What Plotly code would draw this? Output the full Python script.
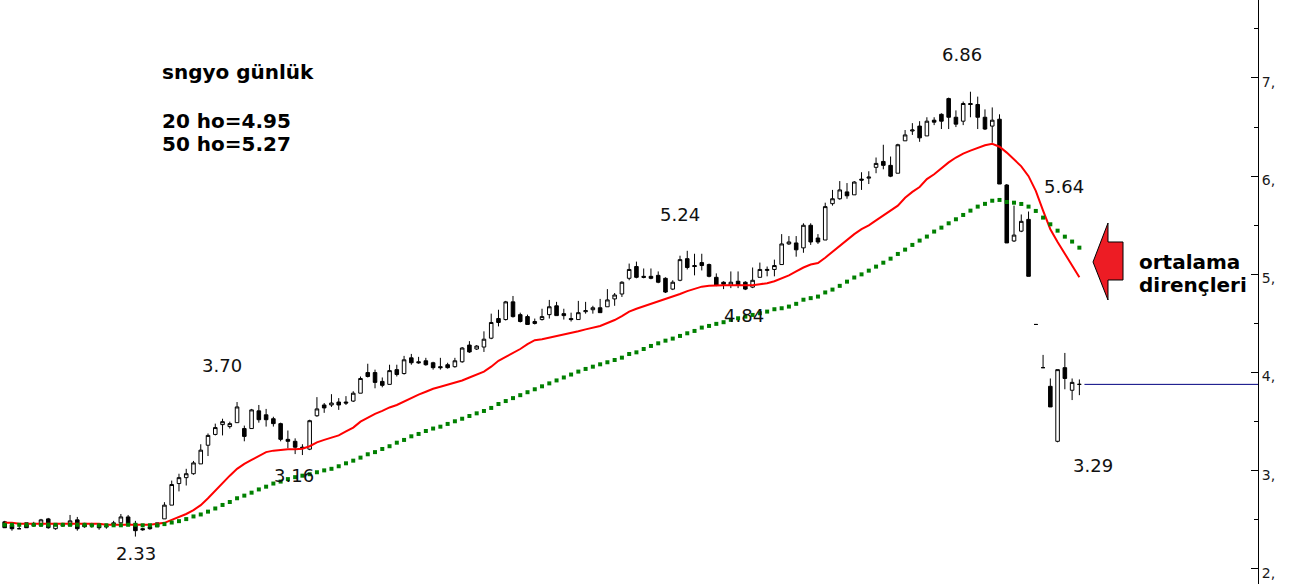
import plotly.graph_objects as go

# ---------------- data ----------------
open_ = [2.48, 2.45, 2.41, 2.47, 2.46, 2.44, 2.51, 2.41, 2.44, 2.44,
         2.50, 2.46, 2.46, 2.45, 2.44, 2.45, 2.47, 2.53, 2.46, 2.41,
         2.43, 2.43, 2.51, 2.65, 2.87, 2.93, 2.97, 3.07, 3.26, 3.37,
         3.47, 3.45, 3.49, 3.43, 3.43, 3.61, 3.57, 3.53, 3.48, 3.32,
         3.30, 3.24, 3.22, 3.56, 3.67, 3.67, 3.70, 3.70, 3.71, 3.79,
         4.00, 4.00, 3.91, 3.88, 4.03, 3.99, 4.15, 4.11, 4.12, 4.10,
         4.06, 4.08, 4.06, 4.11, 4.28, 4.24, 4.26, 4.35, 4.55, 4.54,
         4.72, 4.59, 4.57, 4.50, 4.54, 4.59, 4.68, 4.60, 4.55, 4.54,
         4.62, 4.64, 4.66, 4.67, 4.75, 4.80, 4.96, 5.08, 4.98, 4.98,
         4.99, 4.96, 4.85, 4.94, 5.16, 5.09, 5.12, 5.10, 4.97, 4.92,
         4.89, 4.93, 4.92, 4.87, 4.97, 5.04, 5.05, 5.10, 5.31, 5.32,
         5.27, 5.50, 5.37, 5.35, 5.72, 5.77, 5.84, 5.81, 5.97, 5.98,
         6.09, 6.15, 6.11, 6.03, 6.36, 6.46, 6.51, 6.41, 6.57, 6.63,
         6.79, 6.60, 6.56, 6.74, 6.73, 6.60, 6.51, 6.58, 5.91, 5.34,
         5.44, 5.56, 4.49, 4.05, 3.86, 3.30, 4.05, 3.82, 3.88]
high = [2.49, 2.45, 2.46, 2.47, 2.48, 2.51, 2.52, 2.46, 2.47, 2.55,
        2.53, 2.47, 2.47, 2.46, 2.46, 2.49, 2.56, 2.55, 2.49, 2.42,
        2.44, 2.47, 2.68, 2.90, 2.97, 3.02, 3.10, 3.27, 3.38, 3.48,
        3.53, 3.50, 3.70, 3.46, 3.63, 3.67, 3.63, 3.55, 3.49, 3.41,
        3.33, 3.27, 3.52, 3.75, 3.69, 3.78, 3.74, 3.76, 3.81, 3.96,
        4.09, 4.03, 3.95, 4.08, 4.08, 4.17, 4.19, 4.16, 4.15, 4.11,
        4.15, 4.10, 4.15, 4.26, 4.32, 4.28, 4.42, 4.60, 4.64, 4.73,
        4.78, 4.61, 4.59, 4.55, 4.65, 4.74, 4.72, 4.65, 4.61, 4.73,
        4.72, 4.68, 4.75, 4.85, 4.81, 4.93, 5.11, 5.13, 5.06, 5.06,
        5.03, 4.97, 4.94, 5.19, 5.24, 5.21, 5.21, 5.11, 5.01, 4.93,
        5.03, 5.03, 4.93, 5.07, 5.12, 5.08, 5.15, 5.41, 5.39, 5.39,
        5.52, 5.52, 5.41, 5.73, 5.86, 5.95, 5.93, 5.95, 6.04, 6.05,
        6.19, 6.32, 6.20, 6.33, 6.47, 6.54, 6.56, 6.60, 6.60, 6.64,
        6.80, 6.67, 6.76, 6.86, 6.81, 6.68, 6.70, 6.63, 5.92, 5.70,
        5.61, 5.64, 4.49, 4.18, 3.94, 4.03, 4.20, 3.94, 3.93]
low = [2.42, 2.39, 2.41, 2.42, 2.43, 2.43, 2.41, 2.40, 2.43, 2.44,
       2.39, 2.42, 2.42, 2.40, 2.41, 2.43, 2.46, 2.44, 2.33, 2.39,
       2.40, 2.43, 2.51, 2.65, 2.79, 2.85, 2.96, 3.07, 3.15, 3.36,
       3.36, 3.43, 3.49, 3.30, 3.43, 3.49, 3.45, 3.45, 3.30, 3.23,
       3.17, 3.16, 3.21, 3.55, 3.59, 3.65, 3.62, 3.67, 3.70, 3.79,
       3.95, 3.84, 3.85, 3.88, 3.96, 3.98, 4.08, 4.09, 4.07, 4.03,
       4.03, 4.04, 4.05, 4.10, 4.20, 4.23, 4.21, 4.34, 4.47, 4.53,
       4.56, 4.51, 4.49, 4.49, 4.53, 4.55, 4.58, 4.54, 4.52, 4.54,
       4.60, 4.60, 4.61, 4.67, 4.68, 4.77, 4.94, 4.96, 4.96, 4.95,
       4.91, 4.81, 4.84, 4.93, 5.05, 4.99, 5.04, 4.97, 4.88, 4.85,
       4.86, 4.86, 4.84, 4.86, 4.97, 4.98, 4.98, 5.10, 5.30, 5.18,
       5.22, 5.30, 5.31, 5.35, 5.70, 5.76, 5.77, 5.81, 5.86, 5.92,
       6.03, 6.07, 5.99, 6.03, 6.36, 6.42, 6.35, 6.41, 6.52, 6.48,
       6.48, 6.50, 6.52, 6.60, 6.48, 6.47, 6.34, 5.92, 5.32, 5.33,
       5.43, 4.98, 4.49, 4.05, 3.65, 3.29, 3.83, 3.72, 3.77]
close = [2.42, 2.41, 2.41, 2.42, 2.44, 2.50, 2.42, 2.46, 2.45, 2.49,
         2.41, 2.43, 2.44, 2.42, 2.43, 2.47, 2.53, 2.45, 2.39, 2.40,
         2.41, 2.47, 2.65, 2.86, 2.93, 2.97, 3.08, 3.21, 3.36, 3.44,
         3.50, 3.48, 3.65, 3.35, 3.62, 3.52, 3.52, 3.48, 3.32, 3.30,
         3.24, 3.23, 3.51, 3.63, 3.64, 3.69, 3.67, 3.69, 3.79, 3.94,
         3.96, 3.90, 3.87, 4.02, 3.98, 4.13, 4.10, 4.10, 4.08, 4.05,
         4.05, 4.05, 4.12, 4.25, 4.21, 4.27, 4.34, 4.51, 4.51, 4.72,
         4.57, 4.52, 4.49, 4.52, 4.57, 4.67, 4.58, 4.58, 4.54, 4.61,
         4.63, 4.66, 4.61, 4.74, 4.79, 4.92, 5.05, 4.97, 4.97, 4.96,
         4.92, 4.82, 4.92, 5.15, 5.07, 5.08, 5.09, 4.98, 4.89, 4.90,
         4.92, 4.89, 4.85, 4.94, 5.05, 5.05, 5.09, 5.31, 5.33, 5.25,
         5.50, 5.33, 5.33, 5.69, 5.77, 5.86, 5.80, 5.94, 5.96, 5.99,
         6.13, 6.11, 6.00, 6.32, 6.42, 6.47, 6.39, 6.56, 6.55, 6.56,
         6.60, 6.53, 6.74, 6.73, 6.60, 6.48, 6.57, 5.92, 5.32, 5.40,
         5.54, 4.98, 4.49, 4.05, 3.65, 4.03, 3.94, 3.90, 3.88]
ma20 = [2.47, 2.47, 2.46, 2.46, 2.46, 2.46, 2.46, 2.46, 2.46, 2.46,
        2.46, 2.46, 2.46, 2.46, 2.45, 2.45, 2.45, 2.45, 2.45, 2.45,
        2.45, 2.46, 2.47, 2.50, 2.53, 2.56, 2.60, 2.65, 2.72, 2.80,
        2.87, 2.95, 3.02, 3.07, 3.11, 3.15, 3.19, 3.205, 3.215, 3.22,
        3.22, 3.225, 3.25, 3.29, 3.315, 3.335, 3.36, 3.40, 3.44, 3.50,
        3.54, 3.58, 3.61, 3.645, 3.67, 3.705, 3.745, 3.775, 3.805, 3.835,
        3.855, 3.875, 3.895, 3.92, 3.95, 3.98, 4.01, 4.06, 4.12, 4.16,
        4.20, 4.24, 4.29, 4.33, 4.34, 4.355, 4.37, 4.39, 4.405, 4.42,
        4.44, 4.455, 4.475, 4.505, 4.535, 4.575, 4.62, 4.65, 4.675, 4.70,
        4.725, 4.745, 4.77, 4.80, 4.83, 4.855, 4.875, 4.883, 4.888, 4.888,
        4.888, 4.888, 4.888, 4.89, 4.90, 4.91, 4.93, 4.96, 4.99, 5.03,
        5.07, 5.10, 5.115, 5.17, 5.23, 5.29, 5.35, 5.41, 5.46, 5.50,
        5.55, 5.60, 5.645, 5.70, 5.78, 5.84, 5.89, 5.97, 6.02, 6.08,
        6.14, 6.19, 6.23, 6.26, 6.29, 6.315, 6.33, 6.30, 6.24, 6.17,
        6.10, 6.00, 5.85, 5.65, 5.46, 5.33, 5.21, 5.09, 4.97]
ma50 = [2.45, 2.45, 2.45, 2.45, 2.45, 2.45, 2.45, 2.45, 2.45, 2.45,
        2.45, 2.45, 2.445, 2.445, 2.445, 2.445, 2.445, 2.45, 2.45, 2.445,
        2.445, 2.445, 2.457, 2.473, 2.487, 2.508, 2.535, 2.555, 2.584, 2.616,
        2.652, 2.682, 2.72, 2.747, 2.777, 2.81, 2.838, 2.87, 2.89, 2.915,
        2.935, 2.95, 2.965, 2.985, 3.004, 3.02, 3.046, 3.076, 3.103, 3.134,
        3.168, 3.19, 3.222, 3.25, 3.286, 3.314, 3.351, 3.375, 3.405, 3.43,
        3.449, 3.477, 3.504, 3.53, 3.558, 3.585, 3.609, 3.64, 3.68, 3.71,
        3.74, 3.77, 3.80, 3.83, 3.86, 3.89, 3.92, 3.95, 3.98, 4.01,
        4.037, 4.06, 4.084, 4.105, 4.128, 4.152, 4.189, 4.206, 4.24, 4.271,
        4.298, 4.325, 4.346, 4.373, 4.40, 4.424, 4.458, 4.475, 4.496, 4.513,
        4.537, 4.553, 4.57, 4.587, 4.604, 4.621, 4.645, 4.655, 4.672, 4.70,
        4.742, 4.758, 4.774, 4.816, 4.845, 4.883, 4.926, 4.968, 5.0, 5.038,
        5.079, 5.119, 5.16, 5.208, 5.252, 5.30, 5.344, 5.385, 5.436, 5.476,
        5.52, 5.561, 5.605, 5.649, 5.69, 5.718, 5.75, 5.758, 5.737, 5.73,
        5.717, 5.69, 5.646, 5.578, 5.51, 5.445, 5.384, 5.334, 5.272]
days = list(range(len(close)))

tick_vals = [2, 3, 4, 5, 6, 7]
tick_text = ["2,", "3,", "4,", "5,", "6,", "7,"]
minor_vals = [2.5, 3.5, 4.5, 5.5, 6.5, 7.5]

price_labels = ["6.86", "5.64", "5.24", "4.84", "3.70", "3.16", "2.33", "3.29"]
title_lines = ["sngyo günlük", "20 ho=4.95", "50 ho=5.27"]
note_lines = ["ortalama", "dirençleri"]

# ---------------- layout geometry ----------------
W, H = 1302, 584
MR = 44
PW = W - MR


def pp(xp, yp):
    return xp / PW, 1 - yp / H


fig = go.Figure()
fig.add_trace(go.Candlestick(
    x=days, open=open_, high=high, low=low, close=close,
    increasing=dict(line=dict(color="black", width=1), fillcolor="white"),
    decreasing=dict(line=dict(color="black", width=1), fillcolor="black"),
    whiskerwidth=0, showlegend=False, hoverinfo="skip"))
fig.add_trace(go.Scatter(x=days, y=ma20, mode="lines",
                         line=dict(color="#ff0000", width=2),
                         showlegend=False, hoverinfo="skip"))
fig.add_trace(go.Scatter(x=days, y=ma50, mode="markers",
                         marker=dict(color="#008000", symbol="square", size=4,
                                     line=dict(width=0)),
                         showlegend=False, hoverinfo="skip"))

x_lo, x_hi = -0.647, 172.6
y_lo, y_hi = 1.847, 7.794

annotations = []
label_pos = [(962, 55), (1064, 186), (680, 215), (744, 315),
             (222, 365), (294, 475), (136, 553), (1093, 465)]
for txt, (xp, yp) in zip(price_labels, label_pos):
    ax, ay = pp(xp, yp)
    annotations.append(dict(x=ax, y=ay, xref="paper", yref="paper", text=txt,
                            showarrow=False, xanchor="center", yanchor="middle",
                            font=dict(family="DejaVu Sans", size=18, color="#111111")))
for txt, yp in zip(title_lines, [72, 121, 144]):
    ax, ay = pp(160, yp)
    annotations.append(dict(x=ax, y=ay, xref="paper", yref="paper", text="<b>%s</b>" % txt,
                            showarrow=False, xanchor="left", yanchor="middle",
                            font=dict(family="DejaVu Sans", size=20, color="#000000")))
for txt, yp in zip(note_lines, [262, 285]):
    ax, ay = pp(1137, yp)
    annotations.append(dict(x=ax, y=ay, xref="paper", yref="paper", text="<b>%s</b>" % txt,
                            showarrow=False, xanchor="left", yanchor="middle",
                            font=dict(family="DejaVu Sans", size=20, color="#000000")))

arrow_pts = [(1093, 262), (1108, 223), (1108, 242), (1123, 242),
             (1123, 280), (1108, 280), (1108, 300)]
path = ""
for k, (xp, yp) in enumerate(arrow_pts):
    ax, ay = pp(xp, yp)
    path += ("M" if k == 0 else " L") + " %.5f %.5f" % (ax, ay)
path += " Z"

shapes = [
    dict(type="path", path=path, xref="paper", yref="paper",
         fillcolor="#ed1c24", line=dict(color="#000000", width=1)),
    dict(type="line", xref="x", yref="y", x0=days[-1] + 0.7, x1=x_hi,
         y0=close[-1], y1=close[-1], line=dict(color="#000080", width=1)),
]

fig.update_layout(
    width=W, height=H,
    margin=dict(l=0, r=MR, t=0, b=0),
    paper_bgcolor="white", plot_bgcolor="white",
    showlegend=False,
    hovermode=False,
    xaxis=dict(range=[x_lo, x_hi], visible=False, rangeslider=dict(visible=False),
               showgrid=False, zeroline=False),
    yaxis=dict(range=[y_lo, y_hi], side="right", showgrid=False, zeroline=False,
               showline=True, linecolor="black", linewidth=1,
               ticks="inside", ticklen=7, tickcolor="black", tickwidth=1,
               tickmode="array", tickvals=tick_vals, ticktext=tick_text,
               ticklabelshift=4,
               tickfont=dict(family="DejaVu Sans", size=14, color="#1a1a1a"),
               minor=dict(ticks="inside", ticklen=4, tickcolor="black",
                          tickvals=minor_vals, showgrid=False)),
    annotations=annotations,
    shapes=shapes,
)

fig.write_html("out.html", config={"displayModeBar": False},
               post_script="document.body.style.margin='0px';document.body.style.overflow='hidden';")
